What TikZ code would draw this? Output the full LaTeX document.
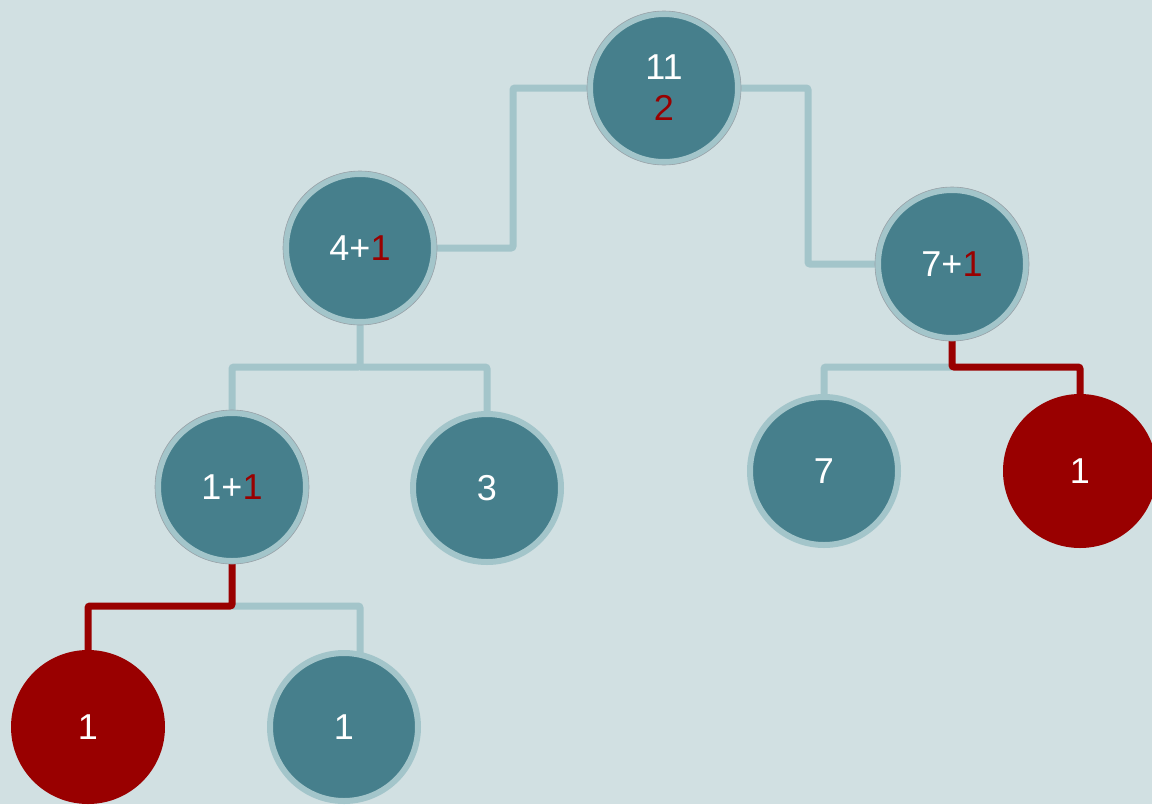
\documentclass[tikz,border=0pt]{standalone}
\usepackage{fontspec}
\setmainfont{Liberation Sans}
\definecolor{bg}{HTML}{D1E0E2}
\definecolor{teal}{HTML}{467F8C}
\definecolor{ring}{HTML}{A3C5CA}
\definecolor{hot}{HTML}{990000}
\definecolor{edge}{HTML}{9AA2A8}
\tikzset{
  tnode/.style={circle, fill=teal, draw=ring, line width=6pt, minimum size=148pt, inner sep=0pt, text=white, font=\fontsize{36}{42}\selectfont, align=center},
  rnode/.style={circle, fill=hot, minimum size=154pt, inner sep=0pt, text=white, font=\fontsize{36}{42}\selectfont},
  conn/.style={draw=ring, line width=7pt, rounded corners=2pt},
  hconn/.style={draw=hot, line width=7pt, rounded corners=2pt},
  rim/.style={draw=edge, line width=0.6pt}
}
\begin{document}
\begin{tikzpicture}[x=1pt,y=-1pt]
\useasboundingbox (0,0) rectangle (1152,804);
\fill[bg] (0,0) rectangle (1152,804);
\clip (0,0) rectangle (1152,804);
% nodes
\node[tnode] (root) at (664,88) {11\\[-1pt]\textcolor{hot}{2}};
\node[tnode] (n41) at (360,248) {4+\textcolor{hot}{1}};
\node[tnode] (n71) at (952,264) {7+\textcolor{hot}{1}};
\node[tnode] (n11) at (232,487) {1+\textcolor{hot}{1}};
\node[tnode] (n3) at (487,488) {3};
\node[tnode] (n7) at (824,471) {7};
\node[rnode] (r1b) at (1080,471) {1};
\node[rnode] (r1a) at (88,727) {1};
\node[tnode] (t1) at (344,727) {1};
% junctions
\coordinate (j41) at (360,367);
\coordinate (j11) at (232,606);
\coordinate (j71) at (952,367);
\coordinate (t1top) at (360,654);
% connectors
\draw[conn] (root.west) -- ++(-74,0) |- (n41.east);
\draw[conn] (root.east) -- ++(67,0) |- (n71.west);
\draw[conn] (n41.south) -- (j41) -| (n11.north);
\draw[conn] (j41) -| (n3.north);
\draw[conn] (j11) -| (t1top);
\draw[hconn] (n11.south) -- (j11) -| (r1a.north);
\draw[conn] (j71) -| (n7.north);
\draw[hconn] (n71.south) -- (j71) -| (r1b.north);
% redraw parent nodes above connectors
\node[tnode] at (root) {11\\[-1pt]\textcolor{hot}{2}};
\node[tnode] at (n41) {4+\textcolor{hot}{1}};
\node[tnode] at (n71) {7+\textcolor{hot}{1}};
\node[tnode] at (n11) {1+\textcolor{hot}{1}};
\draw[rim] (root) circle (77pt);
\draw[rim] (n41) circle (77pt);
\draw[rim] (n71) circle (77pt);
\draw[rim] (n11) circle (77pt);
\end{tikzpicture}
\end{document}
